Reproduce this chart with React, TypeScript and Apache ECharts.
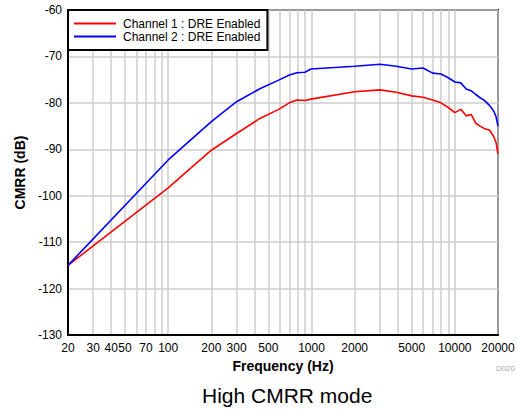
import React, { useEffect, useRef } from "react";
import * as echarts from "echarts";

const frequencies = [20, 100, 200, 300, 440, 590, 700, 790, 900, 990, 2000, 3000, 3900, 5000, 6000, 7000, 8000, 9000, 10000, 11000, 12000, 13000, 14000, 15000, 16000, 17500, 18700, 19400, 20000];
const channel1 = [-115, -98.3, -90.2, -86.6, -83.3, -81.4, -80.0, -79.4, -79.5, -79.2, -77.6, -77.2, -77.7, -78.5, -78.8, -79.4, -80.0, -81.0, -82.1, -81.4, -82.8, -82.5, -84.4, -85.0, -85.5, -85.9, -87.3, -88.6, -91.0];
const channel2 = [-115, -92.3, -84.05, -79.75, -76.9, -75.1, -74.0, -73.5, -73.4, -72.7, -72.1, -71.7, -72.1, -72.7, -72.5, -73.6, -73.8, -74.6, -75.5, -75.7, -77.0, -77.4, -78.2, -78.9, -79.4, -80.6, -81.8, -83.0, -85.0];
const seriesNames = ["Channel 1 : DRE Enabled", "Channel 2 : DRE Enabled"];
const gridFrequencies = [20, 30, 40, 50, 60, 70, 80, 90, 100, 200, 300, 400, 500, 600, 700, 800, 900, 1000, 2000, 3000, 4000, 5000, 6000, 7000, 8000, 9000, 10000, 20000];
const xTickLabels = [20, 30, 40, 50, 70, 100, 200, 300, 500, 1000, 2000, 5000, 10000, 20000];

const FONT = "'Liberation Sans', Arial, Helvetica, sans-serif";

export default function App() {
  const ref = useRef<HTMLDivElement>(null);
  useEffect(() => {
    document.body.style.margin = "0";
    const chart = echarts.init(ref.current!, null, { renderer: "svg" });
    const pairs = (vals: number[]) => frequencies.map((f, i) => [f, vals[i]]);
    chart.setOption({
      animation: false,
      textStyle: { fontFamily: FONT },
      title: {
        text: "High CMRR mode",
        left: 202,
        top: 385,
        padding: 0,
        textStyle: { fontSize: 21, fontWeight: "normal", color: "#000", fontFamily: FONT },
      },
      graphic: [
        {
          type: "text",
          right: 3,
          top: 364,
          style: { text: "D020", fontSize: 8, fill: "#aaaaaa", fontFamily: FONT },
        },
      ],
      legend: {
        orient: "vertical",
        left: 68,
        top: 10,
        backgroundColor: "#fff",
        borderColor: "#000",
        borderWidth: 2,
        padding: [7, 7, 7, 6],
        itemGap: 0,
        itemWidth: 42,
        itemHeight: 2,
        icon: "rect",
        textStyle: { fontSize: 12, color: "#000", lineHeight: 13, padding: [0, 0, 0, 2], fontFamily: FONT },
        data: seriesNames,
      },
      grid: {
        left: 68,
        right: 20,
        top: 10,
        bottom: 75,
        show: true,
        borderColor: "#000",
        borderWidth: 2,
        backgroundColor: "transparent",
      },
      xAxis: {
        type: "log",
        logBase: 10,
        min: 20,
        max: 20000,
        name: "Frequency (Hz)",
        nameLocation: "middle",
        nameGap: 21,
        nameTextStyle: { fontSize: 14, fontWeight: "bold", color: "#000", fontFamily: FONT },
        axisLine: { show: true, lineStyle: { color: "#000", width: 2 } },
        axisTick: { show: false, customValues: gridFrequencies },
        axisLabel: {
          customValues: xTickLabels,
          formatter: (v: number) => String(Math.round(v)),
          fontSize: 12,
          color: "#000",
          margin: 7,
          hideOverlap: false,
          showMinLabel: true,
          showMaxLabel: true,
          fontFamily: FONT,
        },
        splitLine: { show: true, lineStyle: { color: "#cccccc", width: 1.5 } },
        minorSplitLine: { show: false },
      },
      yAxis: {
        type: "value",
        min: -130,
        max: -60,
        interval: 10,
        name: "CMRR (dB)",
        nameLocation: "middle",
        nameGap: 38,
        nameTextStyle: { fontSize: 14, fontWeight: "bold", color: "#000", fontFamily: FONT },
        axisLine: { show: true, lineStyle: { color: "#000", width: 2 } },
        axisTick: { show: false },
        axisLabel: { fontSize: 12, color: "#000", margin: 6, fontFamily: FONT },
        splitLine: { show: true, lineStyle: { color: "#cccccc", width: 1.5 } },
      },
      series: [
        {
          name: seriesNames[0],
          type: "line",
          data: pairs(channel1),
          symbol: "none",
          lineStyle: { color: "#ff0000", width: 1.6 },
          itemStyle: { color: "#ff0000" },
          z: 3,
        },
        {
          name: seriesNames[1],
          type: "line",
          data: pairs(channel2),
          symbol: "none",
          lineStyle: { color: "#0000ff", width: 1.6 },
          itemStyle: { color: "#0000ff" },
          z: 3,
        },
      ],
    });
    return () => chart.dispose();
  }, []);
  return <div ref={ref} style={{ width: 518, height: 410 }} />;
}
